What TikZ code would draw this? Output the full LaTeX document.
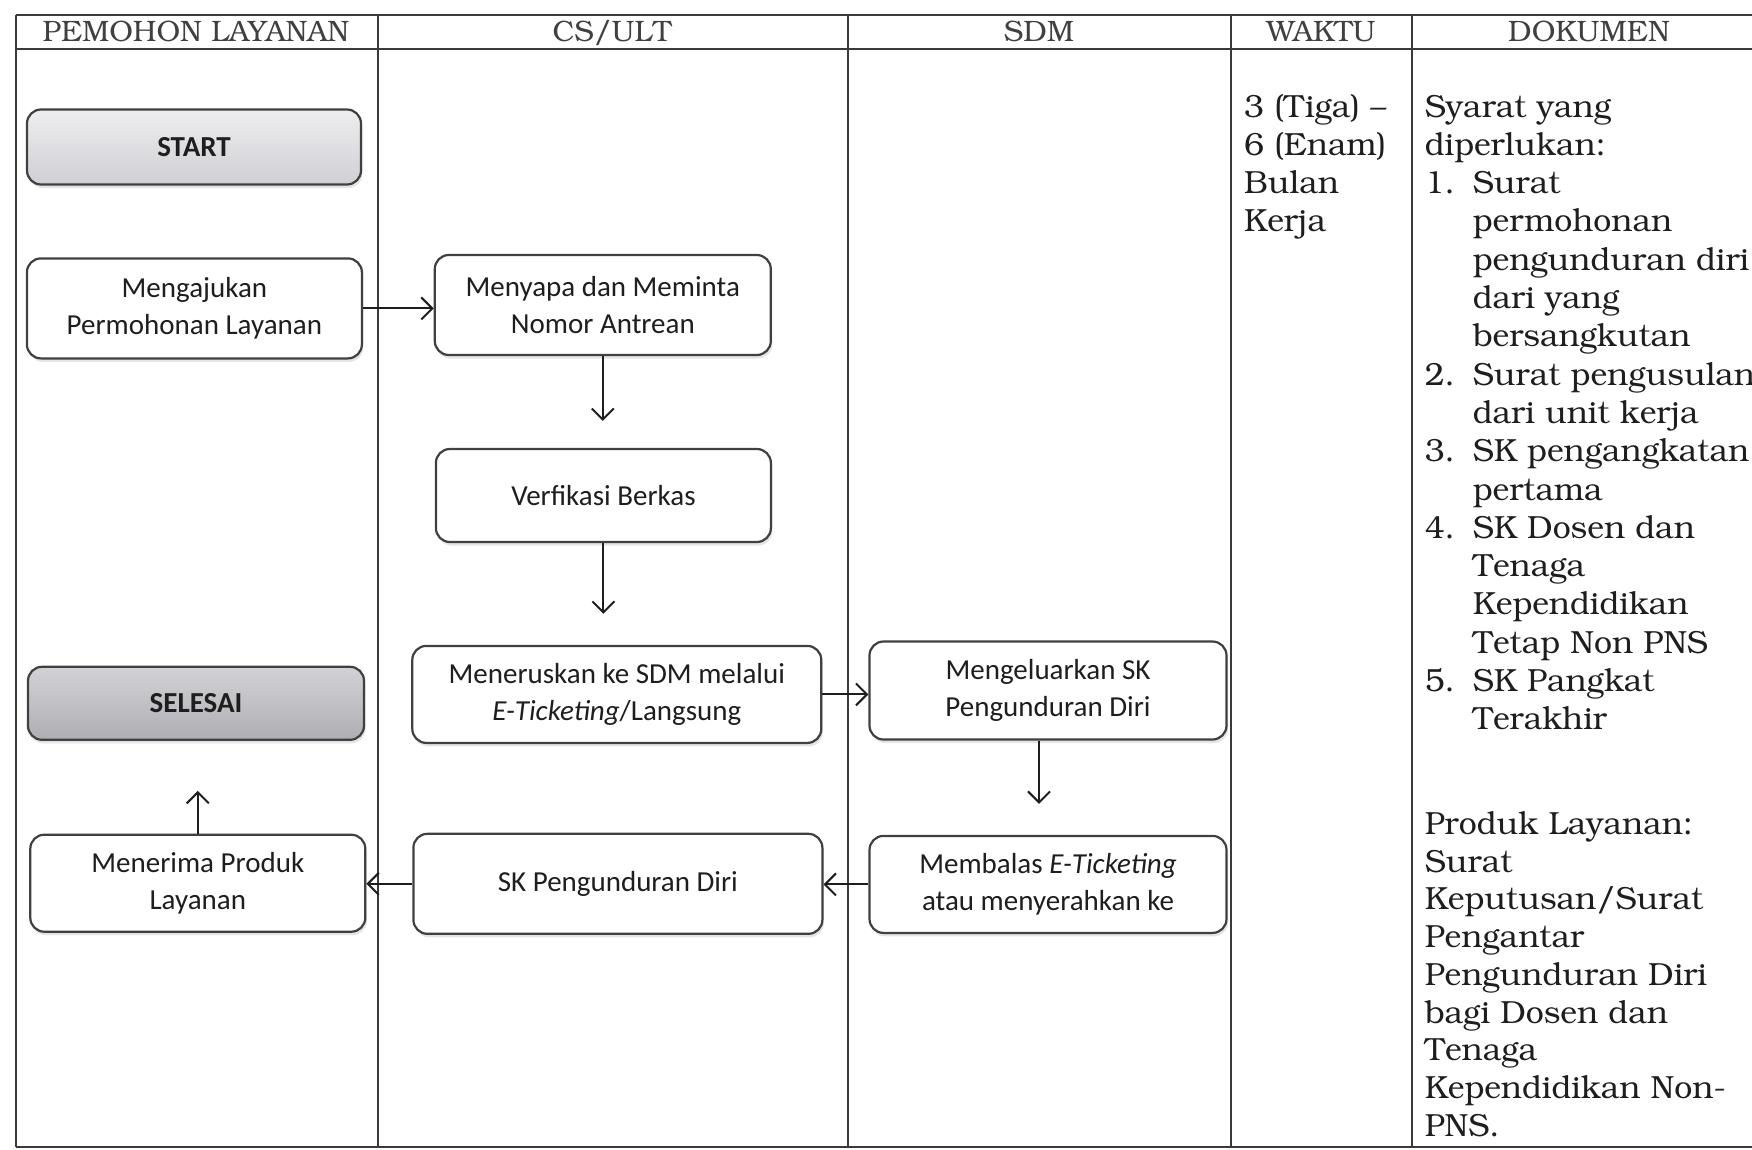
\documentclass[tikz,border=0pt]{standalone}
\usepackage[T1]{fontenc}
\usepackage{fontspec}
\setmainfont{Carlito}
\usetikzlibrary{arrows.meta,shadows}

% Bookman for the table text, Carlito inside the flow boxes
\newcommand\bkfont{\fontencoding{T1}\fontfamily{pbk}\fontseries{m}\fontshape{n}\selectfont}
\newcommand\docnum[1]{\makebox[48pt][l]{#1}}
\newcommand\docind{\hspace*{48pt}}

\definecolor{ink}{HTML}{1E1E1E}
\definecolor{rulecol}{HTML}{3A3A3A}
\definecolor{boxline}{HTML}{404040}
\definecolor{startTop}{HTML}{EEEEF0}
\definecolor{startBot}{HTML}{CFCFD4}
\definecolor{endTop}{HTML}{D2D2D6}
\definecolor{endBot}{HTML}{AEAEB4}

\tikzset{
  rule/.style={draw=rulecol, line width=1.8pt},
  head/.style={font=\bkfont\fontsize{29.5}{34}\selectfont, text=ink!85, anchor=base, inner sep=0pt},
  doc/.style={font=\bkfont\fontsize{32}{38}\selectfont, text=ink, anchor=base west, inner sep=0pt},
  box/.style={draw=boxline, line width=2.2pt, rounded corners=14pt, fill=white,
    align=center, text=ink, inner sep=0pt,
    font=\fontsize{29}{36.5}\selectfont,
    drop shadow={shadow xshift=1.5pt, shadow yshift=-3.5pt, opacity=0.22, fill=black!45}},
  flow/.style={draw=ink, line width=2pt, -{Straight Barb[length=11pt,width=22pt,line width=2pt]}},
}

\begin{document}
\begin{tikzpicture}[x=1pt, y=-1pt]
\useasboundingbox[fill=white] (0,0) rectangle (1752,1149);

% table frame and columns
\draw[rule] (16,15) -- (1780,15);
\draw[rule] (16,49) -- (1780,49);
\draw[rule] (16,1147) -- (1780,1147);
\foreach \cx in {16,378,848,1231,1412}
  \draw[rule] (\cx,15) -- (\cx,1147);

% column headers
\node[head] (hpemohon) at (196,41) {PEMOHON LAYANAN};
\node[head] (hcs)      at (612,41) {CS/ULT};
\node[head] (hsdm)     at (1039,41) {SDM};
\node[head] (hwaktu)   at (1321,41) {WAKTU};
\node[head] (hdok)     at (1589,41) {DOKUMEN};

% process boxes
\node[box, minimum width=334pt, minimum height=75pt, top color=startTop, bottom color=startBot]
  (start) at (194,147) {\bfseries START};
\node[box, minimum width=335pt, minimum height=100pt] (mengajukan) at (194.4,308.4)
  {Mengajukan\\Permohonan Layanan};
\node[box, minimum width=336pt, minimum height=100pt] (menyapa) at (602.8,305)
  {Menyapa dan Meminta\\Nomor Antrean};
\node[box, minimum width=335pt, minimum height=93pt] (verifikasi) at (603.4,495.5)
  {Verfikasi Berkas};
\node[box, minimum width=409pt, minimum height=97pt] (teruskan) at (616.8,694.4)
  {Meneruskan ke SDM melalui\\\textit{E-Ticketing}/Langsung};
\node[box, minimum width=336pt, minimum height=73pt, top color=endTop, bottom color=endBot]
  (selesai) at (196,703.3) {\bfseries SELESAI};
\node[box, minimum width=357pt, minimum height=98pt] (keluarkan) at (1048,690.5)
  {Mengeluarkan SK\\Pengunduran Diri};
\node[box, minimum width=335pt, minimum height=97pt] (terima) at (197.8,883.2)
  {Menerima Produk\\Layanan};
\node[box, minimum width=409pt, minimum height=100pt] (skdiri) at (617.9,883.8)
  {SK Pengunduran Diri};
\node[box, minimum width=357pt, minimum height=97pt] (balas) at (1048,884.4)
  {Membalas \textit{E-Ticketing}\\atau menyerahkan ke};

% connectors
\draw[flow] (mengajukan.east) -- (mengajukan.east -| menyapa.west);
\draw[flow, shorten >=27pt] (menyapa.south) -- (menyapa.south |- verifikasi.north);
\draw[flow, shorten >=31pt] (verifikasi.south) -- (verifikasi.south |- teruskan.north);
\draw[flow] (teruskan.east) -- (teruskan.east -| keluarkan.west);
\draw[flow, shorten >=31pt] ([xshift=-9pt]keluarkan.south) -- ([xshift=-9pt]keluarkan.south |- balas.north);
\draw[flow] (balas.west) -- (balas.west -| skdiri.east);
\draw[flow] (skdiri.west) -- (skdiri.west -| terima.east);
\draw[flow, shorten >=50pt] (terima.north) -- (terima.north |- selesai.south);

% time column
\foreach \txt [count=\i from 0] in {{3 (Tiga) --}, {6 (Enam)}, {Bulan}, {Kerja}}
  \node[doc] (waktu\i) at (1244,117+\i*38.3) {\txt};

% required documents
\foreach \txt [count=\i from 0] in {
  {Syarat yang}, {diperlukan:},
  {\docnum{1.}Surat}, {\docind permohonan}, {\docind pengunduran diri},
  {\docind dari yang}, {\docind bersangkutan},
  {\docnum{2.}Surat pengusulan}, {\docind dari unit kerja},
  {\docnum{3.}SK pengangkatan}, {\docind pertama},
  {\docnum{4.}SK Dosen dan}, {\docind Tenaga}, {\docind Kependidikan}, {\docind Tetap Non PNS},
  {\docnum{5.}SK Pangkat}, {\docind Terakhir}}
  \node[doc] (syarat\i) at (1424.6,117+\i*38.3) {\txt};

% service product
\foreach \txt [count=\i from 0] in {
  {Produk Layanan:}, {Surat}, {Keputusan/Surat}, {Pengantar}, {Pengunduran Diri},
  {bagi Dosen dan}, {Tenaga}, {Kependidikan Non-}, {PNS.}}
  \node[doc] (produk\i) at (1424.6,834.5+\i*37.7) {\txt};
\end{tikzpicture}
\end{document}
